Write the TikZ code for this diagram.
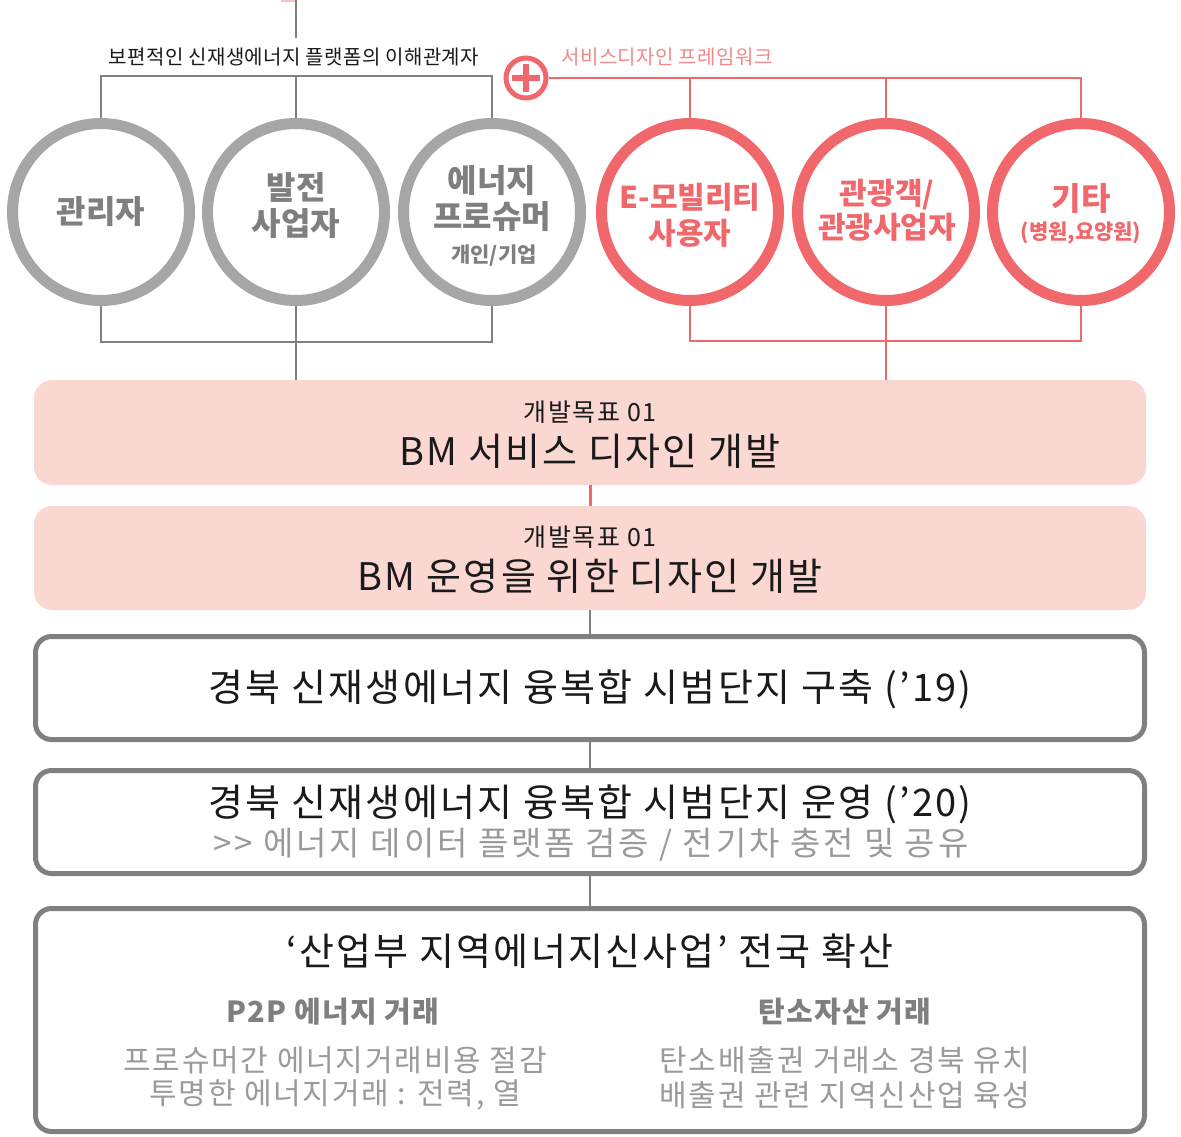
\documentclass[tikz,border=0pt]{standalone}
\usepackage{fontspec}
\setmainfont{Noto Sans CJK KR}[LetterSpace=6]
\newfontfamily\cfont{Noto Sans CJK KR}
\definecolor{gl}{HTML}{808080}
\definecolor{gc}{HTML}{A6A6A6}
\definecolor{gt}{HTML}{7F7F7F}
\definecolor{rc}{HTML}{F0686C}
\definecolor{rt}{HTML}{F08A8C}
\definecolor{pk}{HTML}{FAD7D1}
\definecolor{sub}{HTML}{9A9A9A}
\definecolor{tx}{HTML}{1A1A1A}
\tikzset{
  gline/.style={draw=gl, line width=2pt},
  rline/.style={draw=rc, line width=2pt},
  gcirc/.style={circle, draw=gc, line width=11pt, minimum size=177pt, inner sep=0pt},
  rcirc/.style={circle, draw=rc, line width=11pt, minimum size=177pt, inner sep=0pt},
  ctext/.style={font=\cfont\bfseries, align=center, inner sep=0pt},
  pbox/.style={rectangle, rounded corners=18pt, fill=pk, minimum width=1112pt, inner sep=0pt},
  wbox/.style={rectangle, rounded corners=16pt, draw=gl, line width=5pt, fill=white, minimum width=1109pt, inner sep=0pt},
  lbl/.style={inner sep=0pt, text=tx},
}
\begin{document}
\begin{tikzpicture}[x=1pt, y=-1pt]
\useasboundingbox (0,0) rectangle (1181,1136);
% top remnant
\fill[pk!80!rc] (281,-6) rectangle (296,1.5);
\coordinate (top) at (296,0);
\coordinate (topend) at (296,38);
\draw[gline] (top) -- (topend);
% labels
\node[lbl, font=\fontsize{20}{24}\selectfont\addfontfeature{LetterSpace=2}, text=tx] (lab1) at (294,57) {보편적인 신재생에너지 플랫폼의 이해관계자};
\node[lbl, font=\fontsize{20}{24}\selectfont\addfontfeature{LetterSpace=2}, text=rt] (lab2) at (667,57) {서비스디자인 프레임워크};
% circles
\node[gcirc] (c1) at (101,212) {};
\node[gcirc] (c2) at (296,212) {};
\node[gcirc] (c3) at (492,212) {};
\node[rcirc] (c4) at (690,212) {};
\node[rcirc] (c5) at (886,212) {};
\node[rcirc] (c6) at (1081,212) {};
\node[ctext, text=gt, font=\fontsize{32}{38}\cfont\bfseries] at (c1) {관리자};
\node[ctext, text=gt, font=\fontsize{32}{38}\cfont\bfseries] at (296,206) {발전\\[-2pt]사업자};
\node[ctext, text=gt, font=\fontsize{32}{38}\cfont\bfseries] at (492,199) {에너지\\[-2pt]프로슈머};
\node[ctext, text=gt, font=\fontsize{21}{25}\cfont\bfseries] at (494,256) {개인/기업};
\node[ctext, text=rc, font=\fontsize{30}{36}\cfont\bfseries] at (690,215) {E-모빌리티\\[0pt]사용자};
\node[ctext, text=rc, font=\fontsize{30}{36}\cfont\bfseries] at (887,210) {관광객/\\[-2pt]관광사업자};
\node[ctext, text=rc, font=\fontsize{32}{38}\cfont\bfseries] at (1081,199) {기타};
\node[ctext, text=rc, font=\fontsize{21}{25}\cfont\bfseries] at (1081,233) {(병원,요양원)};
% plus
\node[circle, draw=rc, line width=5pt, minimum size=40pt, inner sep=0pt] (plus) at (526,78) {};
\fill[rc] (523,64) rectangle (529,92);
\fill[rc] (512,75) rectangle (540,81);
% brackets
\coordinate (gbar) at (296,76);
\coordinate (rbar) at (886,78);
\draw[gline] (c1.north) -- (c1.north |- gbar) -- (c3.north |- gbar) -- (c3.north);
\draw[gline] (c2.north) -- (c2.north |- gbar);
\draw[rline] (plus.east) -- (c6.north |- rbar) -- (c6.north);
\draw[rline] (c4.north) -- (c4.north |- rbar);
\draw[rline] (c5.north) -- (c5.north |- rbar);
% boxes
\node[pbox, minimum height=105pt] (b1) at (590,432.5) {};
\node[pbox, minimum height=104pt] (b2) at (590,558) {};
\node[wbox, minimum height=103pt] (b3) at (590,688) {};
\node[wbox, minimum height=103pt] (b4) at (590,822) {};
\node[wbox, minimum height=223pt] (b5) at (590,1020) {};
% lower brackets
\coordinate (gbot) at (296,342);
\coordinate (rbot) at (887,341);
\draw[gline] (c1.south) -- (c1.south |- gbot) -- (c3.south |- gbot) -- (c3.south);
\draw[gline] (c2.south) -- (c2.south |- b1.north);
\draw[rline] (c4.south) -- (c4.south |- rbot) -- (c6.south |- rbot) -- (c6.south);
\draw[rline] (c5.south) -- (c5.south |- b1.north);
% box connectors
\draw[draw=rc, line width=3pt] (b1.south) -- (b2.north);
\draw[gline] (b2.south) -- (b3.north);
\draw[gline] (b3.south) -- (b4.north);
\draw[gline] (b4.south) -- (b5.north);
% box texts
\node[lbl, font=\fontsize{25}{29}\selectfont] (t1a) at (590,412) {개발목표 01};
\node[lbl, font=\fontsize{38}{44}\selectfont] (t1b) at (590,451) {BM 서비스 디자인 개발};
\node[lbl, font=\fontsize{25}{29}\selectfont] (t2a) at (590,537) {개발목표 01};
\node[lbl, font=\fontsize{38}{44}\selectfont] (t2b) at (590,576) {BM 운영을 위한 디자인 개발};
\node[lbl, font=\fontsize{38}{44}\selectfont] (t3) at (590,689) {경북 신재생에너지 융복합 시범단지 구축 (’19)};
\node[lbl, font=\fontsize{38}{44}\selectfont] (t4a) at (590,804) {경북 신재생에너지 융복합 시범단지 운영 (’20)};
\node[lbl, font=\fontsize{33}{38}\selectfont\addfontfeature{LetterSpace=9}, text=sub] (t4b) at (591,845) {{>}{>} 에너지 데이터 플랫폼 검증 / 전기차 충전 및 공유};
\node[lbl, font=\fontsize{38}{44}\selectfont] (t5) at (590,951) {‘산업부 지역에너지신사업’ 전국 확산};
\node[lbl, font=\fontsize{29}{34}\bfseries\addfontfeature{LetterSpace=4}, text=gt] (t5l) at (333,1012) {P2P 에너지 거래};
\node[lbl, font=\fontsize{29}{34}\bfseries\addfontfeature{LetterSpace=4}, text=gt] (t5r) at (845,1012) {탄소자산 거래};
\node[lbl, font=\fontsize{30}{35}\selectfont, text=sub] at (335,1060) {프로슈머간 에너지거래비용 절감};
\node[lbl, font=\fontsize{30}{35}\selectfont, text=sub] at (335,1095) {투명한 에너지거래 : 전력, 열};
\node[lbl, font=\fontsize{30}{35}\selectfont, text=sub] at (845,1060) {탄소배출권 거래소 경북 유치};
\node[lbl, font=\fontsize{30}{35}\selectfont, text=sub] at (845,1095) {배출권 관련 지역신산업 육성};
\end{tikzpicture}
\end{document}
